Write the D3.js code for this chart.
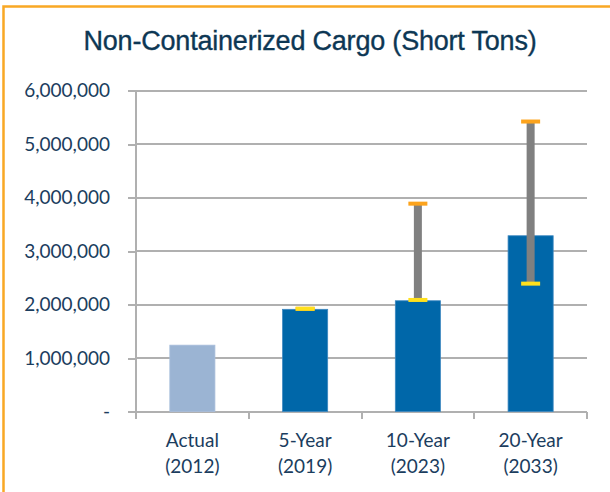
<!DOCTYPE html>
<meta charset="utf-8">
<style>
body { margin: 0; background: #fff; }
svg { display: block; }
.title { font: 27px "Liberation Sans", Arial, sans-serif; fill: #0d3754; stroke: #0d3754; stroke-width: 0.35; letter-spacing: -0.2px; }
.axis text { font: 19px Lato, "Open Sans", sans-serif; fill: #1b3d5e; }
.axis path { display: none; }
.axis line, .grid line { stroke: #b0b0b0; stroke-width: 2; shape-rendering: crispEdges; }
</style>
<body>
<div id="chart"></div>
<script src="https://cdn.jsdelivr.net/npm/d3@7"></script>
<script>

var categories = ["Actual|(2012)", "5-Year|(2019)", "10-Year|(2023)", "20-Year|(2033)"];
var values = [1240000, 1910000, 2070000, 3285000];
var lows = [null, 1920000, 2085000, 2390000];
var highs = [null, 1920000, 3885000, 5420000];
var yTicks = [0, 1000000, 2000000, 3000000, 4000000, 5000000, 6000000];

var width = 610,
    height = 492;

var svg = d3.select("#chart").append("svg")
    .attr("width", width)
    .attr("height", height);

// orange frame, runs off the right and bottom edges
svg.append("rect")
    .attr("x", 3.5)
    .attr("y", 6.5)
    .attr("width", 700)
    .attr("height", 600)
    .attr("fill", "none")
    .attr("stroke", "#f9a825")
    .attr("stroke-width", 2.5);

svg.append("text")
    .attr("class", "title")
    .attr("x", 310)
    .attr("y", 50)
    .attr("text-anchor", "middle")
    .text("Non-Containerized Cargo (Short Tons)");

var x = d3.scaleBand()
    .domain(categories)
    .range([136, 587])
    .paddingInner(0.6)
    .paddingOuter(0.3);

var y = d3.scaleLinear()
    .domain([0, 6000000])
    .range([411.5, 90.5]);

// gridlines
svg.append("g")
    .attr("class", "grid")
    .selectAll("line")
    .data(yTicks)
  .enter().append("line")
    .attr("x1", 136)
    .attr("x2", 587)
    .attr("y1", function(d) { return y(d); })
    .attr("y2", function(d) { return y(d); });

var yAxis = d3.axisLeft(y)
    .tickValues(yTicks)
    .tickSize(8)
    .tickPadding(18)
    .tickFormat(function(d) { return d === 0 ? "-" : d3.format(",")(d); });

svg.append("g")
    .attr("class", "axis")
    .attr("transform", "translate(136,0)")
    .call(yAxis);

svg.append("line")
    .attr("x1", 136).attr("x2", 136)
    .attr("y1", y(6000000)).attr("y2", y(0))
    .attr("stroke", "#b0b0b0")
    .attr("stroke-width", 2)
    .style("shape-rendering", "crispEdges");

// x axis: ticks sit on band boundaries
var step = x.step();
var bounds = d3.range(categories.length + 1).map(function(i) { return 136 + i * step; });

var xg = svg.append("g").attr("class", "axis");
xg.selectAll("line.tick")
    .data(bounds)
  .enter().append("line")
    .attr("x1", function(d) { return d; })
    .attr("x2", function(d) { return d; })
    .attr("y1", y(0))
    .attr("y2", y(0) + 7);

xg.selectAll("text")
    .data(categories)
  .enter().append("text")
    .attr("text-anchor", "middle")
    .attr("x", function(d) { return x(d) + x.bandwidth() / 2; })
    .attr("y", 447)
    .each(function(d) {
      var parts = d.split("|");
      var t = d3.select(this);
      t.append("tspan").attr("x", t.attr("x")).text(parts[0]);
      t.append("tspan").attr("x", t.attr("x")).attr("dy", 26).text(parts[1]);
    });

// bars
svg.append("g")
    .selectAll("rect")
    .data(values)
  .enter().append("rect")
    .attr("x", function(d, i) { return x(categories[i]); })
    .attr("width", x.bandwidth())
    .attr("y", function(d) { return y(d); })
    .attr("height", function(d) { return y(0) - y(d); })
    .attr("fill", function(d, i) { return i === 0 ? "#9bb4d3" : "#0067a9"; })
    .attr("stroke", function(d, i) { return i === 0 ? "#a8bedb" : "#3d88c0"; })
    .attr("stroke-width", 0.8);

// high/low ranges
var ranges = categories.map(function(c, i) { return {c: c, lo: lows[i], hi: highs[i]}; })
    .filter(function(d) { return d.lo !== null; });

var eb = svg.append("g");

eb.selectAll("rect.stem")
    .data(ranges)
  .enter().append("rect")
    .attr("x", function(d) { return x(d.c) + x.bandwidth() / 2 - 4; })
    .attr("width", 8)
    .attr("y", function(d) { return y(d.hi); })
    .attr("height", function(d) { return y(d.lo) - y(d.hi); })
    .attr("fill", "#808080");

eb.selectAll("rect.hi")
    .data(ranges)
  .enter().append("rect")
    .attr("x", function(d) { return x(d.c) + x.bandwidth() / 2 - 9.5; })
    .attr("width", 19)
    .attr("y", function(d) { return y(d.hi) - 2; })
    .attr("height", 4)
    .attr("fill", "#fca31c");

eb.selectAll("rect.lo")
    .data(ranges)
  .enter().append("rect")
    .attr("x", function(d) { return x(d.c) + x.bandwidth() / 2 - 9.5; })
    .attr("width", 19)
    .attr("y", function(d) { return y(d.lo) - 2; })
    .attr("height", 4)
    .attr("fill", "#ffe01c");

</script>
</body>
